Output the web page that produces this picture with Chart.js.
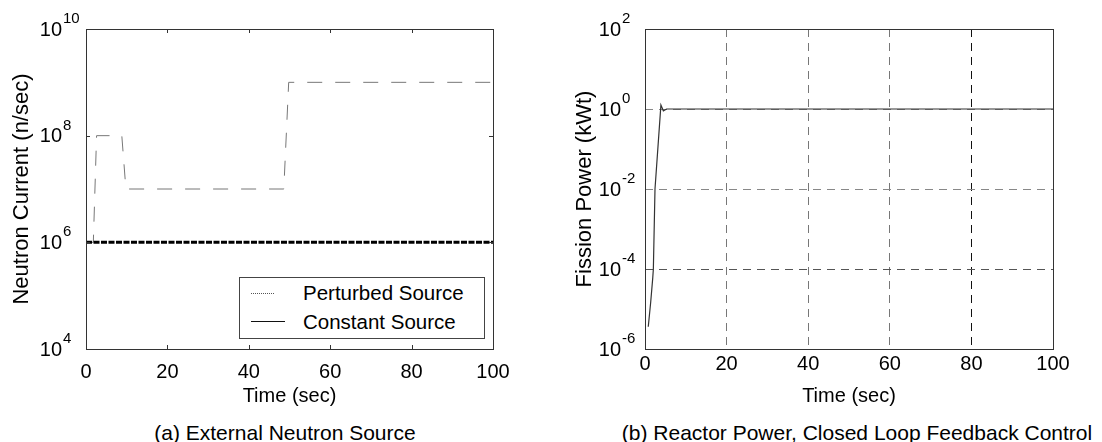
<!DOCTYPE html>
<html>
<head>
<meta charset="utf-8">
<script src="https://cdn.jsdelivr.net/npm/chart.js@4.4.1/dist/chart.umd.min.js"></script>
<style>
  html, body { margin: 0; padding: 0; background: #fff; }
  #wrap { position: relative; width: 1102px; height: 442px; overflow: hidden; background: #fff;
          font-family: Arial, 'Liberation Sans', Helvetica, sans-serif; color: #000; }
  canvas { position: absolute; top: 0; }
  .cap { position: absolute; width: 640px; text-align: center; font-size: 21px; line-height: 21px; white-space: nowrap; }
  #legend { position: absolute; left: 239px; top: 277px; width: 244px; height: 60px; border: 1px solid #444; background: #fff; }
  .lg-line { position: absolute; left: 11px; height: 0; }
  .lg-text { position: absolute; left: 63px; font-size: 20.5px; line-height: 20.5px; white-space: nowrap; }
</style>
</head>
<body>
<div id="wrap">
  <canvas id="chartA" width="551" height="408" style="left:0px"></canvas>
  <canvas id="chartB" width="551" height="408" style="left:551px"></canvas>
  <div id="legend">
    <div class="lg-line" style="top:15px; width:23px; border-top:1px dotted #555;"></div>
    <div class="lg-text" style="top:5px;">Perturbed Source</div>
    <div class="lg-line" style="top:43px; width:34px; border-top:1px solid #111;"></div>
    <div class="lg-text" style="top:34px;">Constant Source</div>
  </div>
  <div class="cap" style="left:-35px; top:422px;">(a) External Neutron Source</div>
  <div class="cap" style="left:537px; top:422px;">(b) Reactor Power, Closed Loop Feedback Control</div>
</div>
<script>
// ---------- data ----------
const timeA = [0, 1.8, 2.6, 8.8, 9.8, 48.6, 49.8, 100];
const perturbedSource = [1e6, 1e6, 1e8, 1e8, 1e7, 1e7, 1e9, 1e9];
const timeConst = [0, 100];
const constantSource = [1e6, 1e6];

const timeB = [0.8, 1.4, 1.9, 2.05, 2.45, 3.9, 4.5, 5.3, 100];
const fissionPower = [3.6e-6, 1.5e-5, 6e-5, 1e-4, 1e-2, 1.25, 0.9, 1.0, 1.0];

const xTicks = [0, 20, 40, 60, 80, 100];
const yTicksA = [1e4, 1e6, 1e8, 1e10];
const yExpA = ['4', '6', '8', '10'];
const yTicksB = [1e-6, 1e-4, 1e-2, 1e0, 1e2];
const yExpB = ['-6', '-4', '-2', '0', '2'];

const labelsA = { x: 'Time (sec)', y: 'Neutron Current (n/sec)' };
const labelsB = { x: 'Time (sec)', y: 'Fission Power (kWt)' };
const seriesNames = ['Perturbed Source', 'Constant Source', 'Fission Power'];

// ---------- setup ----------
const FONT = "Arial, 'Liberation Sans', Helvetica, sans-serif";
Chart.defaults.font.family = FONT;
Chart.defaults.color = '#000';

const toXY = (xs, ys) => xs.map((x, i) => ({ x: x, y: ys[i] }));

// frame, inward tick marks and superscript tick labels (drawn from the scales)
const framePlugin = {
  id: 'frame',
  afterDraw(chart, args, opts) {
    const { ctx, chartArea: a } = chart;
    const xs = chart.scales.x, ys = chart.scales.y;
    ctx.save();
    ctx.strokeStyle = opts.color;
    ctx.lineWidth = 1;
    ctx.setLineDash([]);
    if (opts.tick > 0) {
      ctx.beginPath();
      xs.ticks.forEach(t => {
        const px = Math.round(xs.getPixelForValue(t.value)) + 0.5;
        ctx.moveTo(px, a.bottom); ctx.lineTo(px, a.bottom - opts.tick);
        ctx.moveTo(px, a.top); ctx.lineTo(px, a.top + opts.tick);
      });
      ys.ticks.forEach(t => {
        const py = Math.round(ys.getPixelForValue(t.value)) + 0.5;
        ctx.moveTo(a.left, py); ctx.lineTo(a.left + opts.tick, py);
        ctx.moveTo(a.right, py); ctx.lineTo(a.right - opts.tick, py);
      });
      ctx.stroke();
    }
    ctx.strokeRect(Math.round(a.left) + 0.5, Math.round(a.top) + 0.5,
                   Math.round(a.right - a.left), Math.round(a.bottom - a.top));
    ctx.fillStyle = '#000';
    ctx.textBaseline = 'middle';
    ys.ticks.forEach((t, i) => {
      const py = ys.getPixelForValue(t.value);
      const bx = a.left - opts.gap;
      ctx.font = opts.size + 'px ' + FONT;
      ctx.textAlign = 'right';
      ctx.fillText('10', bx, py + 1);
      ctx.font = opts.supSize + 'px ' + FONT;
      ctx.textAlign = 'left';
      ctx.fillText(opts.exps[i], bx + 1, py - opts.rise);
    });
    ctx.restore();
  }
};

function xScale(title, gridOpts) {
  return {
    type: 'linear', min: 0, max: 100,
    afterBuildTicks: s => { s.ticks = xTicks.map(v => ({ value: v })); },
    afterFit: s => { s.height = 59; },
    ticks: { font: { size: 20 }, color: '#000', padding: 3, maxRotation: 0, autoSkip: false,
             callback: v => String(v) },
    title: { display: true, text: title, font: { size: 20 }, color: '#000', padding: { top: 0, bottom: 0 } },
    grid: gridOpts,
    border: { display: false, dash: [8, 6] }
  };
}

function yScale(min, max, ticks, title, width, titlePad, gridOpts) {
  return {
    type: 'logarithmic', min: min, max: max,
    afterBuildTicks: s => { s.ticks = ticks.map(v => ({ value: v })); },
    afterFit: s => { s.width = width; },
    ticks: { display: false },
    title: { display: true, text: title, font: { size: 22 }, color: '#000', padding: { top: titlePad, bottom: 0 } },
    grid: gridOpts,
    border: { display: false, dash: [8, 6] }
  };
}

// ---------- chart (a) ----------
new Chart(document.getElementById('chartA'), {
  type: 'line',
  data: {
    datasets: [
      { label: seriesNames[0], data: toXY(timeA, perturbedSource), borderColor: '#777',
        borderWidth: 1, borderDash: [15, 13], pointRadius: 0, tension: 0, order: 2 },
      { label: seriesNames[1], data: toXY(timeConst, constantSource), borderColor: '#000',
        borderWidth: 3, borderDash: [6, 1.5], pointRadius: 0, tension: 0, order: 1 }
    ]
  },
  options: {
    responsive: false, animation: false, devicePixelRatio: 1,
    layout: { padding: { top: 29, right: 58, left: 0, bottom: 0 } },
    plugins: {
      legend: { display: false }, tooltip: { enabled: false },
      frame: { color: '#333', tick: 4, gap: 24, size: 20, supSize: 15, rise: 10, exps: yExpA }
    },
    scales: {
      x: xScale(labelsA.x, { display: false }),
      y: yScale(1e4, 1e10, yTicksA, labelsA.y, 86, 9, { display: false })
    }
  },
  plugins: [framePlugin]
});

// ---------- chart (b) ----------
const gridColorX = ctx => (ctx.tick && ctx.tick.value === 80) ? '#111' : '#777';
const gridColorY = ctx => (ctx.tick && ctx.tick.value === 1e-4) ? '#555' : '#888';

new Chart(document.getElementById('chartB'), {
  type: 'line',
  data: {
    datasets: [
      { label: seriesNames[2], data: toXY(timeB, fissionPower), borderColor: '#333',
        borderWidth: 1.2, pointRadius: 0, tension: 0 }
    ]
  },
  options: {
    responsive: false, animation: false, devicePixelRatio: 1,
    layout: { padding: { top: 29, right: 49, left: 0, bottom: 0 } },
    plugins: {
      legend: { display: false }, tooltip: { enabled: false },
      frame: { color: '#333', tick: 0, gap: 24, size: 20, supSize: 15, rise: 10, exps: yExpB }
    },
    scales: {
      x: xScale(labelsB.x, { display: true, drawTicks: false, color: gridColorX, lineWidth: 1 }),
      y: yScale(1e-6, 1e2, yTicksB, labelsB.y, 94, 21, { display: true, drawTicks: false, color: gridColorY, lineWidth: 1 })
    }
  },
  plugins: [framePlugin]
});
</script>
</body>
</html>
